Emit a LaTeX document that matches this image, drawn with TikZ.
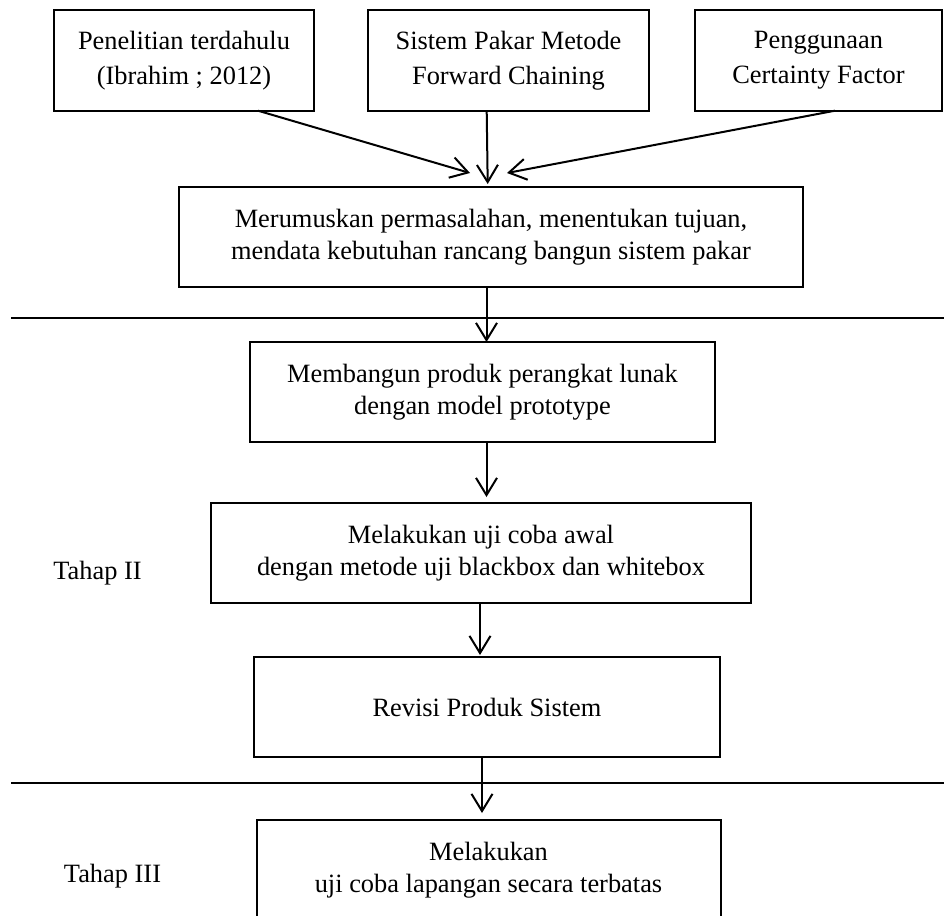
\documentclass[tikz,border=0pt]{standalone}
\usepackage{fontspec}
\setmainfont{Liberation Serif}
\usetikzlibrary{arrows.meta}
\begin{document}
\begin{tikzpicture}[x=0.5pt,y=-0.5pt,
  box/.style={draw, line width=1pt, inner sep=0pt, outer sep=0pt, align=center,
    font=\fontsize{13.2}{16}\selectfont},
  topbox/.style={box, font=\fontsize{13.2}{17.5}\selectfont, minimum height=50.35pt},
  lbl/.style={inner sep=0pt, font=\fontsize{13.2}{16}\selectfont},
  arr/.style={line width=1pt, -{Straight Barb[length=8.6pt,width=10.5pt,line width=1pt]}},
  sep/.style={line width=0.8pt}]
\useasboundingbox (0,0) rectangle (944,916);

\node[topbox, minimum width=130pt] (b1) at (184,60.35) {Penelitian terdahulu\\(Ibrahim ; 2012)};
\node[topbox, minimum width=140.5pt] (b2) at (508.5,60.35) {Sistem Pakar Metode\\Forward Chaining};
\node[topbox, minimum width=123.5pt] (b3) at (818.5,60.35) {Penggunaan\\Certainty Factor};

\node[box, minimum width=312pt, minimum height=50.25pt] (b4) at (491,236.75)
  {Merumuskan permasalahan, menentukan tujuan,\\mendata kebutuhan rancang bangun sistem pakar};
\node[box, minimum width=232.5pt, minimum height=50pt] (b5) at (482.5,392)
  {Membangun produk perangkat lunak\\dengan model prototype};
\node[box, minimum width=270pt, minimum height=50pt] (b6) at (481,553)
  {Melakukan uji coba awal\\dengan metode uji blackbox dan whitebox};
\node[box, minimum width=233pt, minimum height=50pt] (b7) at (487,707)
  {Revisi Produk Sistem};
\node[box, minimum width=232pt, minimum height=50pt] (b8) at (488.5,870)
  {Melakukan\\uji coba lapangan secara terbatas};

\node[lbl] (t2) at (97.5,573) {Tahap II};
\node[lbl] (t3) at (112.5,876) {Tahap III};

\coordinate (s1l) at (11,318);
\coordinate (s1r) at (944,318);
\coordinate (s2l) at (11,783);
\coordinate (s2r) at (944,783);
\draw[sep] (s1l) -- (s1r);
\draw[sep] (s2l) -- (s2r);

\draw[arr] ([xshift=37pt]b1.south) -- ([xshift=-10.5pt,yshift=6.75pt]b4.north);
\draw[arr] ([xshift=-10.9pt]b2.south) -- ([xshift=-1.65pt,yshift=1.25pt]b4.north);
\draw[arr] ([xshift=8.25pt]b3.south) -- ([xshift=8pt,yshift=6.75pt]b4.north);
\draw[arr] ([xshift=-2.25pt]b4.south) -- ([xshift=2pt]b5.north);
\draw[arr] ([xshift=2pt]b5.south) -- ([xshift=2.75pt,yshift=3pt]b6.north);
\draw[arr] ([xshift=-0.5pt]b6.south) -- ([xshift=-3.5pt,yshift=1pt]b7.north);
\draw[arr] ([xshift=-2.5pt]b7.south) -- ([xshift=-3.25pt,yshift=3.5pt]b8.north);
\end{tikzpicture}
\end{document}
